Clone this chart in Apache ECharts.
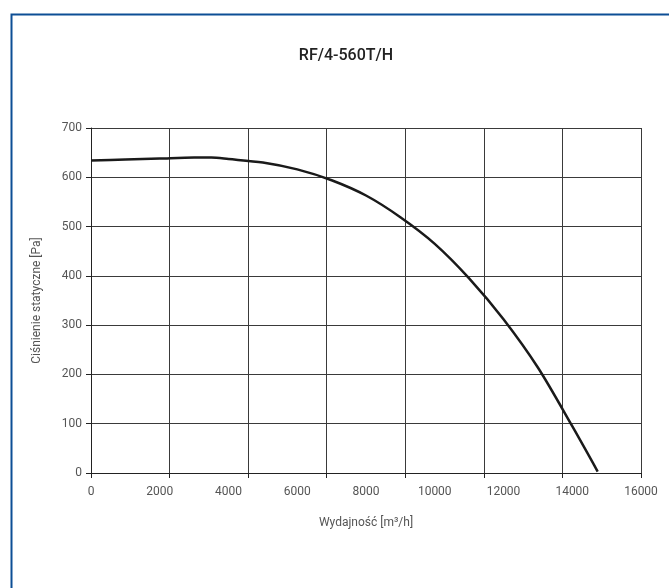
<!DOCTYPE html>
<html>
<head>
<meta charset="utf-8">
<script src="https://cdn.jsdelivr.net/npm/echarts@6/dist/echarts.min.js"></script>
<style>
html,body{margin:0;padding:0;background:#fff;}
#c{width:669px;height:588px;}
</style>
</head>
<body>
<div id="c"></div>
<script>
// Chart data
var titleText = 'RF/4-560T/H';
var xAxisName = 'Wydajność [m³/h]';
var yAxisName = 'Ciśnienie statyczne [Pa]';
var flow = [0, 1000, 2000, 3000, 3500, 4000, 5000, 6000, 7000, 8000, 9000, 10000, 11000, 12000, 13000, 14000, 14740];
var pressure = [634, 636, 638, 640, 640, 637, 630, 616, 594, 563, 519, 465, 395, 312, 214, 95, 3];
var xTicks = [0, 2000, 4000, 6000, 8000, 10000, 12000, 14000, 16000];
var yTicks = [0, 100, 200, 300, 400, 500, 600, 700];
var gridDivisions = 7;

var FONT = '"Roboto", sans-serif';
var data = flow.map(function (f, i) { return [f, pressure[i]]; });

var chart = echarts.init(document.getElementById('c'), null, {renderer: 'canvas'});
chart.setOption({
  animation: false,
  backgroundColor: '#ffffff',
  title: {
    text: titleText,
    left: 341, top: 43, textAlign: 'center',
    textStyle: {fontFamily: FONT, fontSize: 16, fontWeight: 500, color: '#222'}
  },
  graphic: [{
    type: 'rect', left: 9, top: 12, z: -1,
    shape: {width: 700, height: 620},
    style: {fill: 'none', stroke: '#0d4e95', lineWidth: 2}
  }],
  grid: {left: 91, right: 28, top: 128, bottom: 115},
  xAxis: [{
    type: 'value', min: xTicks[0], max: xTicks[xTicks.length - 1], interval: 2000,
    name: xAxisName, nameLocation: 'middle', nameGap: 44,
    nameTextStyle: {fontFamily: FONT, fontSize: 12, color: '#555'},
    axisLine: {show: true, lineStyle: {color: '#222', width: 1}},
    axisTick: {show: false},
    splitLine: {show: false},
    axisLabel: {fontFamily: FONT, fontSize: 12, color: '#555', margin: 13,
      formatter: function (v) { return String(v); }}
  }, {
    type: 'value', min: 0, max: gridDivisions, interval: 1, position: 'bottom',
    axisLine: {show: false},
    axisTick: {show: true, length: 5, inside: false, lineStyle: {color: '#222'}},
    axisLabel: {show: false},
    splitLine: {show: true, lineStyle: {color: '#3a3a3a', width: 1}}
  }],
  yAxis: {
    type: 'value', min: yTicks[0], max: yTicks[yTicks.length - 1], interval: 100,
    name: yAxisName, nameLocation: 'middle', nameGap: 48,
    nameTextStyle: {fontFamily: FONT, fontSize: 12, color: '#555'},
    axisLine: {show: true, lineStyle: {color: '#222', width: 1}},
    axisTick: {show: true, length: 5, lineStyle: {color: '#222'}},
    splitLine: {show: true, lineStyle: {color: '#3a3a3a', width: 1}},
    axisLabel: {fontFamily: FONT, fontSize: 12, color: '#555', margin: 9}
  },
  series: [{
    type: 'line', xAxisIndex: 0, data: data,
    smooth: 0.3, showSymbol: false,
    lineStyle: {color: '#1a1a1a', width: 2.5}
  }]
});
</script>
</body>
</html>
